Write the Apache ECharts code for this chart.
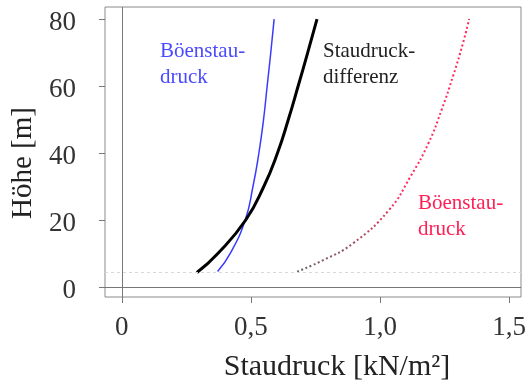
<!DOCTYPE html>
<html>
<head>
<meta charset="utf-8">
<script src="https://cdn.jsdelivr.net/npm/echarts@6/dist/echarts.min.js"></script>
<style>
  html, body { margin: 0; padding: 0; background: #fff; }
  #chart { width: 529px; height: 387px; }
</style>
</head>
<body>
<div id="chart"></div>
<script>
// Höhe [m] und Staudruck [kN/m²]
const heightsBoe = [4.6, 10, 20, 30, 40, 50, 60, 70, 80];
const qBoe = [0.371, 0.42, 0.478, 0.508, 0.531, 0.549, 0.563, 0.577, 0.59];

const heightsDiff = [4.3, 10, 20, 30, 40, 50, 60, 70, 80];
const qDiff = [0.291, 0.372, 0.48, 0.55, 0.603, 0.645, 0.683, 0.72, 0.756];

const heightsBoe2 = [4.6, 8, 13, 23, 33, 43, 53, 63, 73, 80];
const qBoe2 = [0.679, 0.78, 0.895, 1.035, 1.118, 1.188, 1.239, 1.283, 1.322, 1.345];

const xTicks = [0, 0.5, 1.0, 1.5];
const yTicks = [0, 20, 40, 60, 80];
const groundLevel = 4.5;

function pairs(q, h) {
    return q.map((v, i) => [v, h[i]]);
}

const serif = '"Liberation Serif", "DejaVu Serif", serif';

const myChart = echarts.init(document.getElementById('chart'));
let option = {
    animation: false,
    grid: {
        left: 105, top: 7, right: 2, bottom: 90,
        show: true,
        borderColor: '#8a8a8a',
        borderWidth: 1
    },
    xAxis: {
        type: 'value',
        min: -0.065,
        max: 1.546,
        name: 'Staudruck [kN/m²]',
        nameLocation: 'middle',
        nameGap: 55,
        nameTextStyle: { fontFamily: serif, fontSize: 30, color: '#222', padding: [0, 0, 0, 48] },
        axisLine: { show: false, onZero: false },
        axisTick: { show: true, length: 6, inside: false, customValues: xTicks, lineStyle: { color: '#777' } },
        axisLabel: {
            customValues: xTicks,
            margin: 17,
            fontFamily: serif, fontSize: 27, color: '#333',
            formatter: v => v === 0 ? '0' : v.toFixed(1).replace('.', ',')
        },
        splitLine: { show: false }
    },
    yAxis: {
        type: 'value',
        min: -3,
        max: 83.6,
        name: 'Höhe [m]',
        nameLocation: 'middle',
        nameGap: 66,
        nameTextStyle: { fontFamily: serif, fontSize: 29, color: '#222', padding: [0, 22, 0, 0] },
        axisLine: { show: false, onZero: false },
        axisTick: { show: true, length: 6, inside: false, customValues: yTicks, lineStyle: { color: '#777' } },
        axisLabel: {
            customValues: yTicks,
            margin: 29,
            formatter: v => '{t|' + v + '}',
            rich: {
                t: { fontFamily: serif, fontSize: 27, color: '#333', padding: [8, 0, 0, 0] }
            }
        },
        splitLine: { show: false }
    },
    series: [
        {
            type: 'line',
            data: [],
            markLine: {
                silent: true,
                symbol: 'none',
                label: { show: false },
                data: [
                    { xAxis: 0, lineStyle: { color: '#777', width: 1, type: 'solid' } },
                    { yAxis: 0, lineStyle: { color: '#777', width: 1, type: 'solid' } },
                    { yAxis: groundLevel, lineStyle: { color: '#d8d8d8', width: 1, type: [3, 3] } }
                ]
            }
        },
        {
            name: 'Böenstaudruck',
            type: 'line',
            smooth: true,
            showSymbol: false,
            data: pairs(qBoe, heightsBoe),
            lineStyle: { color: '#3a3aff', width: 1.5 }
        },
        {
            name: 'Staudruckdifferenz',
            type: 'line',
            smooth: true,
            showSymbol: false,
            data: pairs(qDiff, heightsDiff),
            lineStyle: { color: '#000', width: 3 }
        },
        {
            name: 'Böenstaudruck 2',
            type: 'line',
            smooth: true,
            showSymbol: false,
            data: pairs(qBoe2, heightsBoe2),
            lineStyle: {
                width: 2,
                type: [2, 2.5],
                color: new echarts.graphic.LinearGradient(0, 0, 0, 1, [
                    { offset: 0, color: '#ff2a5a' },
                    { offset: 0.7, color: '#ff2a5a' },
                    { offset: 1, color: '#666' }
                ])
            }
        }
    ],
    graphic: [
        { type: 'text', left: 160, top: 38, style: { text: 'Böenstau-\ndruck', font: '21px ' + serif, fill: '#4a4aff', lineHeight: 26 } },
        { type: 'text', left: 323, top: 38, style: { text: 'Staudruck-\ndifferenz', font: '21px ' + serif, fill: '#222', lineHeight: 26 } },
        { type: 'text', left: 418, top: 190, style: { text: 'Böenstau-\ndruck', font: '21px ' + serif, fill: '#ff1f55', lineHeight: 26 } }
    ]
};
myChart.setOption(option);
</script>
</body>
</html>
